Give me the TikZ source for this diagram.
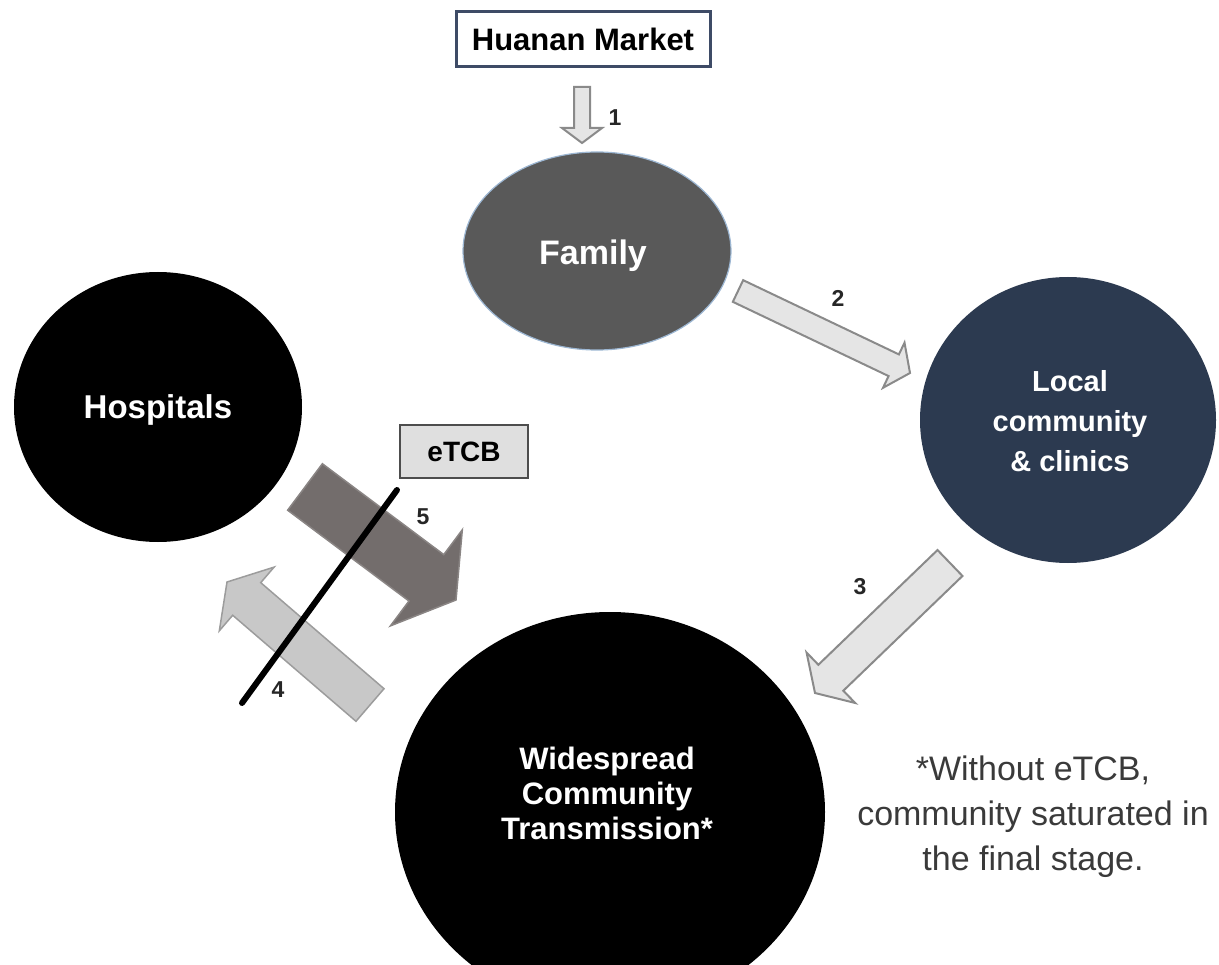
\documentclass[tikz,border=0pt]{standalone}
\usepackage{fontspec}
\setmainfont{Liberation Sans}
\usetikzlibrary{calc,shapes.geometric}

\definecolor{familyfill}{HTML}{595959}
\definecolor{familyrim}{HTML}{9DB7D3}
\definecolor{localfill}{HTML}{2C3A50}
\definecolor{boxrim}{HTML}{3E4B66}
\definecolor{lightarrow}{HTML}{E5E5E5}
\definecolor{lightrim}{HTML}{8A8A8A}
\definecolor{midarrow}{HTML}{C8C8C8}
\definecolor{midrim}{HTML}{9C9C9C}
\definecolor{darkarrow}{HTML}{736D6C}
\definecolor{darkrim}{HTML}{8A8584}
\definecolor{tagfill}{HTML}{DFDFDF}
\definecolor{tagrim}{HTML}{4D4D4D}
\definecolor{numcol}{HTML}{262626}
\definecolor{notecol}{HTML}{3A3A3A}

% block arrow from tail centre #2 to tip #3:
% #4 half shaft width, #5 half head width, #6 head length
\newcommand\blockarrow[6]{%
  \coordinate (ba-base) at ($(#3)!#6!(#2)$);
  \draw[#1] ($(#2)!#4!90:(#3)$) -- ($(ba-base)!#4!-90:(#2)$)
    -- ($(ba-base)!#5!-90:(#2)$) -- (#3) -- ($(ba-base)!#5!90:(#2)$)
    -- ($(ba-base)!#4!90:(#2)$) -- ($(#2)!#4!-90:(#3)$) -- cycle;
}

\begin{document}
\begin{tikzpicture}[x=1pt,y=-1pt,
  blob/.style={ellipse,inner sep=0pt},
  whitetext/.style={text=white,align=center,font=\bfseries},
  numlabel/.style={text=numcol,font=\fontsize{23}{26}\selectfont\bfseries},
  lightblock/.style={fill=lightarrow,draw=lightrim,line width=2pt,line join=miter},
  midblock/.style={fill=midarrow,draw=midrim,line width=1.5pt,line join=miter},
  darkblock/.style={fill=darkarrow,draw=darkrim,line width=1.5pt,line join=miter}]
\useasboundingbox (0,0) rectangle (1219,965);
\clip (0,0) rectangle (1219,965);

% source box
\node[draw=boxrim,line width=3pt,minimum width=254pt,minimum height=55pt,
      inner sep=0pt,font=\fontsize{31}{34}\selectfont\bfseries]
  (market) at (583,39.5) {Huanan Market};

% stages
\node[blob,fill=familyfill,draw=familyrim,line width=1.2pt,
      minimum width=268pt,minimum height=198pt] (family) at (597,251) {};
\node[whitetext,font=\fontsize{34}{38}\selectfont\bfseries] (familyText) at (593,256) {Family};

\node[blob,fill=localfill,minimum width=296pt,minimum height=286pt] (local) at (1068,420) {};
\node[whitetext,font=\fontsize{29}{40}\selectfont\bfseries] (localText) at (1070,421)
  {Local\\community\\\& clinics};

\node[blob,fill=black,minimum width=288pt,minimum height=270pt] (hosp) at (158,407) {};
\node[whitetext,font=\fontsize{33}{36}\selectfont\bfseries] (hospText) at (158,410) {Hospitals};

\node[blob,fill=black,minimum width=430pt,minimum height=400pt] (wide) at (610,812) {};
\node[whitetext,font=\fontsize{31}{35}\selectfont\bfseries] (wideText) at (607,793)
  {Widespread\\Community\\Transmission*};

% intervention tag
\node[fill=tagfill,draw=tagrim,line width=2.5pt,minimum width=128pt,minimum height=53pt,
      inner sep=0pt,font=\fontsize{28}{31}\selectfont\bfseries]
  (etcb) at (464,451.5) {eTCB};

% arrow end points
\coordinate (a1t) at (582,87);   \coordinate (a1h) at (582,143);
\coordinate (a2t) at (738,291);  \coordinate (a2h) at (910,373);
\coordinate (a3t) at (950,563);  \coordinate (a3h) at (815,693);
\coordinate (a4t) at (370,705);  \coordinate (a4h) at (227,582);
\coordinate (a5t) at (305,487);  \coordinate (a5h) at (456,600);
\coordinate (cutA) at (397,490); \coordinate (cutB) at (242,703);

\blockarrow{lightblock}{a1t}{a1h}{8pt}{20pt}{15pt}
\blockarrow{lightblock}{a2t}{a2h}{12pt}{25pt}{18pt}
\blockarrow{lightblock}{a3t}{a3h}{18pt}{35pt}{22pt}
\blockarrow{darkblock}{a5t}{a5h}{29pt}{60pt}{37pt}
\blockarrow{midblock}{a4t}{a4h}{21.5pt}{42pt}{26pt}

% barrier line across the hospital links
\draw[line width=6pt,line cap=round] (cutA) -- (cutB);

% step numbers
\node[numlabel] (n1) at (615,118) {1};
\node[numlabel] (n2) at (838,298) {2};
\node[numlabel] (n3) at (860,587) {3};
\node[numlabel] (n4) at (278,690) {4};
\node[numlabel] (n5) at (423,517) {5};

% footnote
\node[text=notecol,align=center,font=\fontsize{34}{45}\selectfont] (note) at (1033,817)
  {*Without eTCB,\\community saturated in\\the final stage.};
\end{tikzpicture}
\end{document}
